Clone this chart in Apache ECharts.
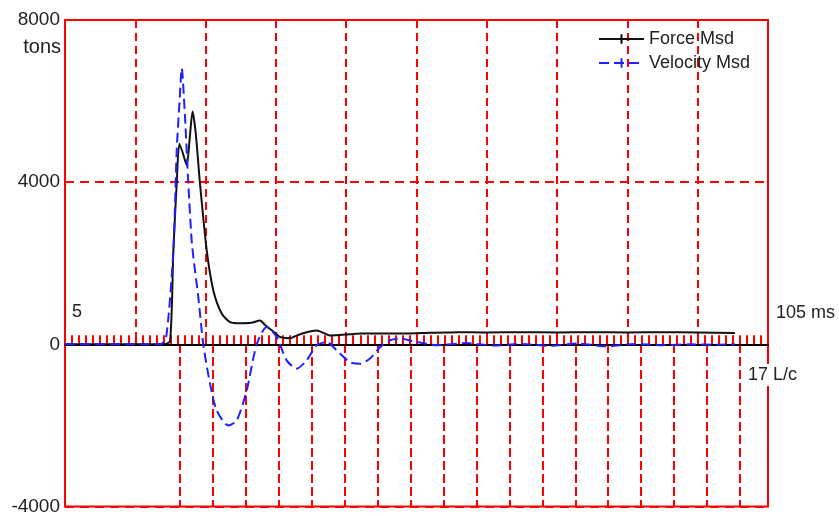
<!DOCTYPE html>
<html>
<head>
<meta charset="utf-8">
<script src="https://cdn.jsdelivr.net/npm/echarts@6/dist/echarts.min.js"></script>
<style>html,body{margin:0;padding:0;background:#fff;}#c{width:839px;height:516px;}</style>
</head>
<body>
<div id="c"></div>
<script>
// ---- data (time in ms, values in tons) ----
const forceTime   = [5, 19.0, 19.94, 20.41, 20.89, 21.26, 21.7, 22.31, 22.7, 23.15, 23.6, 24.2, 25.16, 26.1, 27.29, 28.47, 30.0, 31.5, 32.74, 33.5, 35.11, 35.58, 37.01, 38.0, 39.37, 40.8, 42.7, 45.5, 47.0, 49.8, 53.6, 57, 61, 65, 70, 75, 80, 85, 90, 95, 100.3];
const forceValues = [0, 0, 80, 2300, 3970, 4950, 4750, 4420, 5000, 5740, 5200, 3970, 2320, 1330, 760, 550, 520, 530, 590, 470, 250, 180, 150, 220, 300, 340, 220, 250, 270, 270, 265, 285, 300, 290, 300, 290, 300, 290, 300, 290, 280];
const velocityTime   = [5, 18.5, 19.37, 20.41, 20.89, 21.3, 21.6, 22.07, 22.54, 23.0, 23.25, 23.96, 24.67, 25.63, 26.58, 28.23, 29.42, 30.84, 32.27, 33.69, 35.11, 36.53, 37.96, 39.37, 40.8, 42.22, 43.65, 45.54, 46.96, 48.39, 49.81, 51.23, 52.65, 55, 58, 62, 66, 70, 74, 78, 82, 86, 90, 94, 98, 100.3];
const velocityValues = [0, 0, 150, 2300, 4790, 6000, 6810, 5610, 3970, 2600, 2160, 1170, 0, -970, -1630, -2000, -1880, -1140, 0, 430, 180, -395, -600, -395, -25, 57, -150, -440, -480, -350, -70, 100, 140, 60, -20, 30, -30, 10, -40, 20, -50, 10, -20, 0, -10, 0];
const seriesNames = ['Force Msd', 'Velocity Msd'];
const timeRange = [5, 105];      // ms
const lcRange = [0, 17];         // L/c
const forceRange = [-4000, 8000]; // tons
const axisTexts = { unit: 'tons', tStart: '5', tEnd: '105 ms', lcEnd: '17 L/c' };

const RED = '#ff0000';
const TXT = '#222';
const FONT = 'Liberation Sans, Arial, sans-serif';
// thin vertical tick used as legend marker (bbox padded so it is not stretched)
const TICK = 'path://M4,0h2v10h-2z M0,5h0.01v0.01h-0.01z M9.99,5h0.01v0.01h-0.01z';

const chart = echarts.init(document.getElementById('c'), null, { renderer: 'canvas' });

const toPairs = (xs, ys) => xs.map((x, i) => [x, ys[i]]);

chart.setOption({
  animation: false,
  backgroundColor: '#fff',
  textStyle: { fontFamily: FONT },
  grid: [
    { left: 65, right: 71, top: 20, bottom: 9, show: true, borderColor: RED, borderWidth: 2, backgroundColor: 'transparent' },
    { left: 65, right: 71, top: 20, bottom: 172 },
    { left: 180, right: 99, top: 344, bottom: 9 }
  ],
  xAxis: [
    {
      gridIndex: 0, type: 'value', min: timeRange[0], max: timeRange[1], interval: 1,
      axisLine: { show: true, onZero: true, lineStyle: { color: '#000', width: 2 } },
      axisTick: { show: true, inside: true, length: 9, lineStyle: { color: RED, width: 2 } },
      axisLabel: { show: false },
      splitLine: { show: false }
    },
    {
      gridIndex: 1, type: 'value', min: timeRange[0], max: timeRange[1], interval: 10,
      axisLine: { show: false }, axisTick: { show: false }, axisLabel: { show: false },
      splitLine: { show: true, lineStyle: { color: RED, width: 2, type: [8, 5] } }
    },
    {
      gridIndex: 2, type: 'value', min: lcRange[0], max: lcRange[1], interval: 1,
      axisLine: { show: false }, axisTick: { show: false }, axisLabel: { show: false },
      splitLine: { show: true, lineStyle: { color: RED, width: 2, type: [9, 4] } }
    }
  ],
  yAxis: [
    {
      gridIndex: 0, type: 'value', min: forceRange[0], max: forceRange[1], interval: 4000,
      axisLine: { show: false }, axisTick: { show: false },
      axisLabel: { show: true, margin: 5, color: TXT, fontSize: 19, fontFamily: FONT, formatter: v => String(v) },
      splitLine: { show: true, lineStyle: { color: RED, width: 2, type: [9, 6] } }
    },
    { gridIndex: 1, type: 'value', show: false, splitLine: { show: false } },
    { gridIndex: 2, type: 'value', show: false, splitLine: { show: false } }
  ],
  legend: {
    orient: 'vertical', left: 593, top: 25, itemWidth: 45, itemHeight: 12, itemGap: 6,
    textStyle: { color: TXT, fontSize: 18, fontFamily: FONT },
    data: seriesNames
  },
  series: [
    {
      name: seriesNames[0], type: 'line', xAxisIndex: 0, yAxisIndex: 0,
      data: toPairs(forceTime, forceValues), smooth: 0.25,
      symbol: TICK, symbolSize: 10, showSymbol: false,
      itemStyle: { color: '#000' },
      lineStyle: { color: '#111', width: 2 }, z: 3
    },
    {
      name: seriesNames[1], type: 'line', xAxisIndex: 0, yAxisIndex: 0,
      data: toPairs(velocityTime, velocityValues), smooth: 0.25,
      symbol: TICK, symbolSize: 10, showSymbol: false,
      itemStyle: { color: '#1f1fff' },
      lineStyle: { color: '#1f1fff', width: 2, type: [10, 5] }, z: 4
    }
  ],
  graphic: [
    { type: 'text', right: 839 - 61, top: 37, style: { text: axisTexts.unit, fill: TXT, font: '20px ' + FONT } },
    { type: 'text', left: 72, top: 303, style: { text: axisTexts.tStart, fill: TXT, font: '18px ' + FONT } },
    { type: 'text', left: 776, top: 304, style: { text: axisTexts.tEnd, fill: TXT, font: '18px ' + FONT } },
    { type: 'text', left: 747, top: 364, z: 100, style: { text: axisTexts.lcEnd, fill: TXT, font: '18px ' + FONT, backgroundColor: '#fff', padding: [2, 1, 2, 1] } }
  ]
});
</script>
</body>
</html>
